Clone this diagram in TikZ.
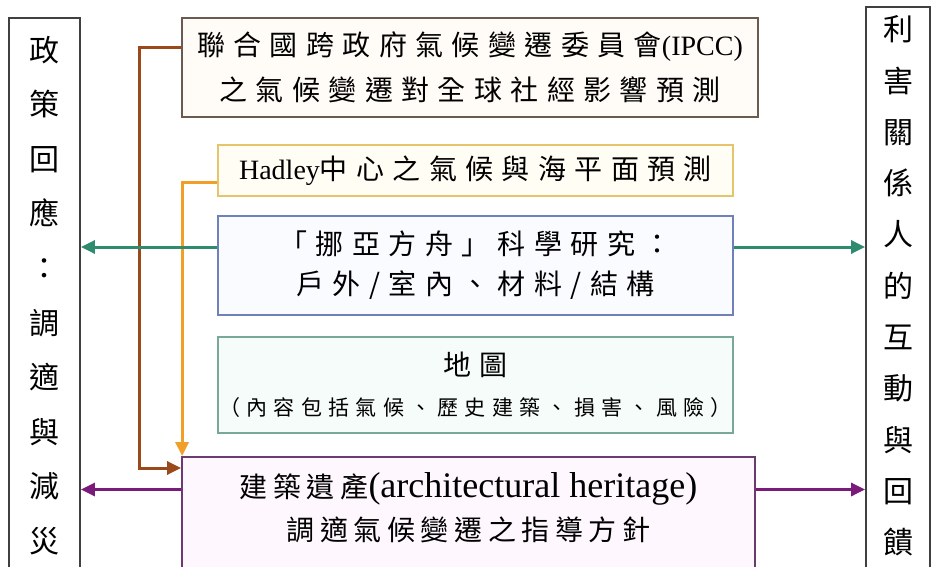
\documentclass[tikz,border=0pt]{standalone}
\usepackage{fontspec}
\setmainfont{Liberation Serif}
\newfontfamily\cjk{Noto Sans CJK TC}[LetterSpace=30]
\newfontfamily\cjknarrow{Noto Sans CJK TC}[LetterSpace=20]
\newfontfamily\cjkcol{Noto Sans CJK TC}
\usetikzlibrary{arrows.meta}
\definecolor{ipccD}{HTML}{6B5A50}\definecolor{ipccF}{HTML}{FFFBF6}
\definecolor{hadD}{HTML}{E6C46C}\definecolor{hadF}{HTML}{FFFDF4}
\definecolor{noahD}{HTML}{7080B8}\definecolor{noahF}{HTML}{F9FBFF}
\definecolor{mapD}{HTML}{78A898}\definecolor{mapF}{HTML}{F6FCF9}
\definecolor{herD}{HTML}{6A3A70}\definecolor{herF}{HTML}{FEF7FE}
\definecolor{sideD}{HTML}{404040}
\definecolor{cBrown}{HTML}{9A4A1A}\definecolor{cOrange}{HTML}{F0A028}
\definecolor{cGreen}{HTML}{2E8B6E}\definecolor{cPurple}{HTML}{7A1A7A}
\begin{document}
\begin{tikzpicture}[x=1pt,y=-1pt,
  box/.style={draw, line width=1.8pt, rectangle, inner sep=0pt, align=center},
  sidebox/.style={draw=sideD, line width=1.8pt, fill=white, rectangle, inner sep=0pt},
  coltext/.style={inner sep=0pt, align=center, font=\cjkcol\fontsize{30}{#1}\selectfont},
  conn/.style={line width=3pt, -{Triangle[length=14pt,width=13pt]}},
]
\useasboundingbox (0,0) rectangle (932,567);
\fill[white] (0,0) rectangle (932,567);

% side boxes
\node[sidebox, minimum width=71pt, minimum height=560pt] (lbox) at (44.5,298) {};
\node[sidebox, minimum width=64pt, minimum height=571pt] (rbox) at (898,292.5) {};
\node[coltext=54.6] (ltxt) at (44.5,295.5) {政\\策\\回\\應\\：\\調\\適\\與\\減\\災};
\node[coltext=51.3] (rtxt) at (898,286) {利\\害\\關\\係\\人\\的\\互\\動\\與\\回\\饋};

% central boxes
\node[box, draw=ipccD, fill=ipccF, minimum width=576pt, minimum height=99pt,
  font=\fontsize{28}{45}\selectfont] (ipcc) at (470,67.5)
  {{\cjk 聯合國跨政府氣候變遷委員會}(IPCC)\\{\cjk 之氣候變遷對全球社經影響預測}};
\node[box, draw=hadD, fill=hadF, minimum width=515pt, minimum height=51pt,
  font=\fontsize{28}{40}\selectfont] (hadley) at (475.5,170.5)
  {Hadley{\cjk 中心之氣候與海平面預測}};
\node[box, draw=noahD, fill=noahF, minimum width=515pt, minimum height=99pt,
  font=\fontsize{28}{40}\selectfont] (noah) at (475.5,265.5)
  {{\cjk 「挪亞方舟」科學研究：}\\{\cjk 戶外/室內、材料/結構}};
\node[box, draw=mapD, fill=mapF, minimum width=515pt, minimum height=96pt,
  font=\fontsize{28}{40}\selectfont] (map) at (475.5,385)
  {{\cjk 地圖}\\{\fontsize{21}{40}\selectfont\cjk （內容包括氣候、歷史建築、損害、風險）}};
\node[box, draw=herD, fill=herF, minimum width=573pt, minimum height=118pt] (heritage) at (468.5,516) {};
\node[inner sep=0pt, align=center, font=\fontsize{28}{43}\selectfont] (hertxt) at (468.5,508)
  {{\cjknarrow 建築遺產}{\fontsize{36}{43}\selectfont(architectural heritage)}\\{\cjknarrow 調適氣候變遷之指導方針}};

% brown connector
\coordinate (b0) at ([yshift=19.5pt]ipcc.west);
\coordinate (b1) at ([yshift=48pt]heritage.west);
\draw[conn, cBrown] (b0) -- ++(-42,0) |- (b1);
% orange connector
\coordinate (o0) at ([yshift=-12.5pt]hadley.west);
\draw[conn, cOrange] (o0) -| ([xshift=1pt]heritage.north west);
% purple connectors
\coordinate (pl) at ([yshift=26.5pt]heritage.west);
\coordinate (pr) at ([yshift=26.5pt]heritage.east);
\draw[conn, cPurple] (pl) -- (pl -| lbox.east);
\draw[conn, cPurple] (pr) -- (pr -| rbox.west);
% green connectors
\coordinate (gl) at ([yshift=18.5pt]noah.west);
\coordinate (gr) at ([yshift=18.5pt]noah.east);
\draw[conn, cGreen] (gl) -- (gl -| lbox.east);
\draw[conn, cGreen] (gr) -- (gr -| rbox.west);
\end{tikzpicture}
\end{document}
